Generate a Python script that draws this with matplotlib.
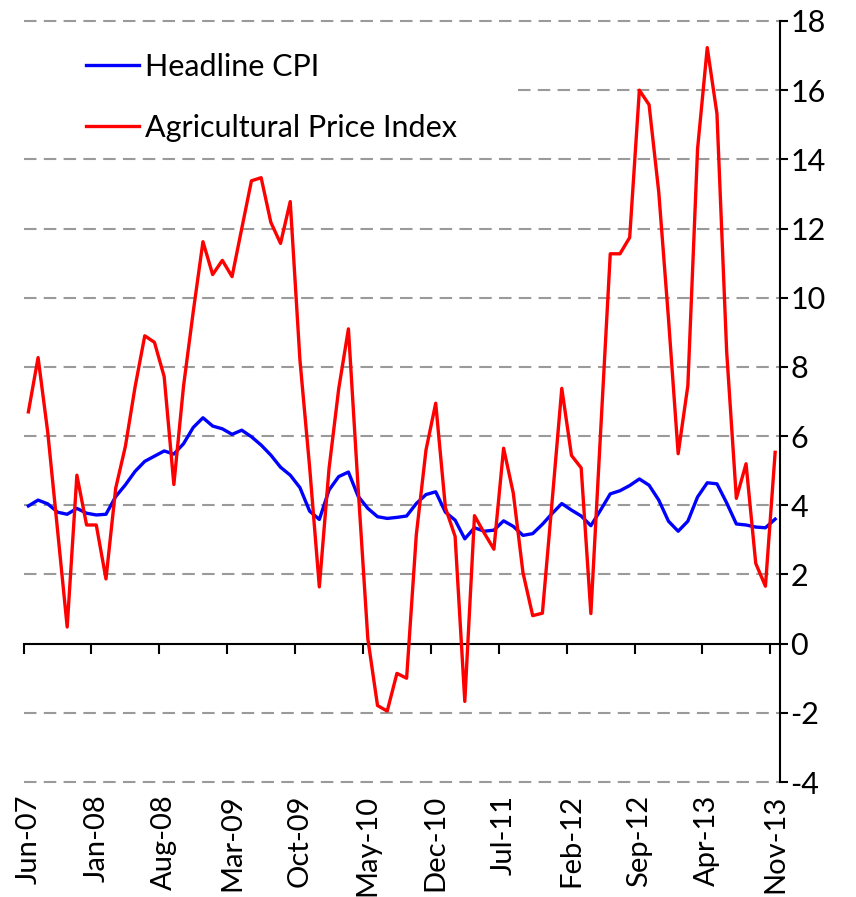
import numpy as np
import matplotlib
matplotlib.use("Agg")
import matplotlib.pyplot as plt

plt.rcParams['font.family'] = ['Lato', 'DejaVu Sans']
plt.rcParams['axes.unicode_minus'] = False

# monthly, Jun-07 .. Nov-13 (78 months)
headline_cpi = [3.98, 4.15, 4.04, 3.80, 3.74, 3.91, 3.77, 3.72, 3.74, 4.25,
                4.59, 4.98, 5.27, 5.42, 5.57, 5.48, 5.78, 6.25, 6.53, 6.29,
                6.21, 6.05, 6.17, 5.98, 5.74, 5.45, 5.10, 4.87, 4.51, 3.83,
                3.59, 4.44, 4.83, 4.96, 4.26, 3.91, 3.67, 3.62, 3.65, 3.69,
                4.05, 4.31, 4.39, 3.80, 3.57, 3.03, 3.35, 3.25, 3.28, 3.55,
                3.39, 3.13, 3.18, 3.45, 3.76, 4.05, 3.86, 3.69, 3.41, 3.86,
                4.33, 4.42, 4.57, 4.76, 4.58, 4.15, 3.54, 3.25, 3.54, 4.24,
                4.65, 4.62, 4.07, 3.46, 3.43, 3.37, 3.35, 3.60]
agri_price = [6.70, 8.27, 6.10, 3.30, 0.48, 4.87, 3.43, 3.43, 1.87, 4.49,
              5.70, 7.42, 8.90, 8.71, 7.72, 4.60, 7.45, 9.60, 11.62, 10.67,
              11.08, 10.61, 12.00, 13.38, 13.47, 12.18, 11.57, 12.78, 8.20, 5.10,
              1.64, 5.06, 7.37, 9.10, 4.50, 0.14, -1.79, -1.95, -0.86, -1.00,
              3.15, 5.60, 6.95, 3.93, 3.10, -1.67, 3.70, 3.20, 2.73, 5.65,
              4.35, 2.05, 0.81, 0.88, 4.10, 7.38, 5.44, 5.08, 0.87, 6.10,
              11.27, 11.27, 11.74, 16.00, 15.58, 13.05, 9.40, 5.49, 7.46, 14.30,
              17.23, 15.32, 8.45, 4.20, 5.20, 2.32, 1.66, 5.53]
tick_labels = ['Jun-07', 'Jan-08', 'Aug-08', 'Mar-09', 'Oct-09', 'May-10',
               'Dec-10', 'Jul-11', 'Feb-12', 'Sep-12', 'Apr-13', 'Nov-13']
y_ticks = list(range(-4, 19, 2))

x = np.arange(len(headline_cpi))

fig = plt.figure(figsize=(8.56, 8.97), dpi=100)
ax = fig.add_axes([0.0275, 0.1282, 0.9112 - 0.0275, 0.9766 - 0.1282])

# dashed grid (the 16 line is hidden behind the legend on the left)
grid_kw = dict(color='#9a9a9a', lw=1.5, linestyles=(0, (6, 3.5)), clip_on=False, zorder=1)
for v in y_ticks:
    if v == 0:
        continue
    x0 = 50.5 if v == 16 else -0.5
    ax.hlines(v, x0, 77.5, **grid_kw)

ax.plot(x, headline_cpi, color='#0000ff', lw=2.4, label='Headline CPI', zorder=3)
ax.plot(x, agri_price, color='#ff0000', lw=2.4, label='Agricultural Price Index', zorder=4)

ax.set_xlim(-0.5, 77.5)
ax.set_ylim(-4, 18)

for s in ['left', 'top']:
    ax.spines[s].set_visible(False)
ax.spines['right'].set_linewidth(1.5)
ax.spines['bottom'].set_position(('data', 0))
ax.spines['bottom'].set_linewidth(1.5)

ax.yaxis.tick_right()
ax.set_yticks(y_ticks)
ax.tick_params(axis='y', direction='out', length=6, width=1.5, pad=1.5, labelsize=22)

ax.set_xticks(np.arange(-0.5, 78, 7))
ax.tick_params(axis='x', direction='out', length=7, width=1.5, labelbottom=False)

sec = ax.secondary_xaxis('bottom')
sec.set_xticks(np.arange(0, 78, 7), labels=tick_labels, rotation=90)
sec.tick_params(length=0, pad=9, labelsize=21)
sec.spines['bottom'].set_visible(False)

ax.legend(loc='upper left', bbox_to_anchor=(0.066, 0.974), frameon=False,
          fontsize=22, handlelength=1.75, handletextpad=0.2, labelspacing=1.08,
          borderaxespad=0)

fig.savefig('out.png', dpi=100)
